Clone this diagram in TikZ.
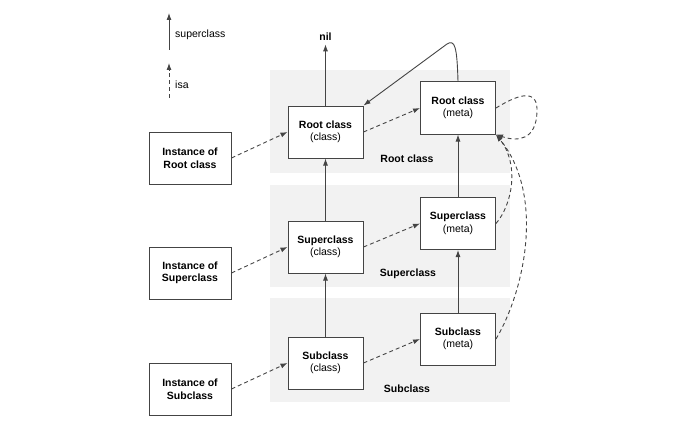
\documentclass[tikz,border=0pt]{standalone}
\usepackage{fontspec}
\setmainfont{Liberation Sans}
\usetikzlibrary{arrows.meta}
\definecolor{linegray}{HTML}{444444}
\definecolor{bandgray}{HTML}{F2F2F2}
\begin{document}
\begin{tikzpicture}[x=1pt,y=-1pt,
  font=\fontsize{10.5}{12.5}\selectfont,
  box/.style={draw=linegray,line width=1pt,fill=white,minimum width=75pt,minimum height=52pt,inner sep=1pt,align=center},
  ibox/.style={box,minimum width=82pt},
  band/.style={fill=bandgray},
  sup/.style={draw=linegray,line width=0.9pt,-{Latex[length=7pt,width=5pt]}},
  isa/.style={sup,dash pattern=on 4pt off 3pt},
  lbl/.style={font=\fontsize{10.5}{12.5}\selectfont\bfseries}
]
\useasboundingbox (0,0) rectangle (675,436);
% bands
\fill[band] (270,70) rectangle (510,173);
\fill[band] (270,185) rectangle (510,287);
\fill[band] (270,298) rectangle (510,402);
% band labels
\node[lbl] (lr) at (407,159) {Root class};
\node[lbl] (ls) at (408,274) {Superclass};
\node[lbl] (lb) at (407,389) {Subclass};
% legend
\coordinate (l1a) at (169,50);
\coordinate (l1b) at (169,13);
\coordinate (l2a) at (169,98);
\coordinate (l2b) at (169,63);
\draw[sup] (l1a) -- (l1b);
\draw[isa] (l2a) -- (l2b);
\node[anchor=west,inner sep=0pt] (tsup) at (175,35) {superclass};
\node[anchor=west,inner sep=0pt] (tisa) at (175,85) {isa};
% nodes
\node[lbl] (nil) at (325.5,37) {nil};
\node[box] (rc) at (325.5,132) {\textbf{Root class}\\(class)};
\node[box] (rm) at (458,108) {\textbf{Root class}\\(meta)};
\node[box] (sc) at (325.5,247) {\textbf{Superclass}\\(class)};
\node[box] (sm) at (458,223.5) {\textbf{Superclass}\\(meta)};
\node[box] (bc) at (325.5,363) {\textbf{Subclass}\\(class)};
\node[box] (bm) at (458,339) {\textbf{Subclass}\\(meta)};
\node[ibox] (ir) at (190,158) {\textbf{Instance of}\\\textbf{Root class}};
\node[ibox] (is) at (190,273) {\textbf{Instance of}\\\textbf{Superclass}};
\node[ibox] (ib) at (190,389) {\textbf{Instance of}\\\textbf{Subclass}};
% superclass arrows
\draw[sup] (rc.north) -- (nil.south);
\draw[sup] (sc.north) -- (rc.south);
\draw[sup] (bc.north) -- (sc.south);
\draw[sup] (sm.north) -- (rm.south);
\draw[sup] (bm.north) -- (sm.south);
\draw[sup] (rm.north) .. controls (457,47) and (455,39) .. (447,44) -- (rc.north east);
% isa arrows
\draw[isa] (ir.east) -- (rc.west);
\draw[isa] (is.east) -- (sc.west);
\draw[isa] (ib.east) -- (bc.west);
\draw[isa] (rc.east) -- (rm.west);
\draw[isa] (sc.east) -- (sm.west);
\draw[isa] (bc.east) -- (bm.west);
\draw[isa] (rm.east) .. controls (522,92) and (538,90) .. (537,112) .. controls (536,140) and (518,142) .. (rm.south east);
\draw[isa] (sm.east) .. controls (512,205) and (520,165) .. (rm.south east);
\draw[isa] (bm.east) .. controls (525,290) and (545,195) .. (rm.south east);
\end{tikzpicture}
\end{document}
